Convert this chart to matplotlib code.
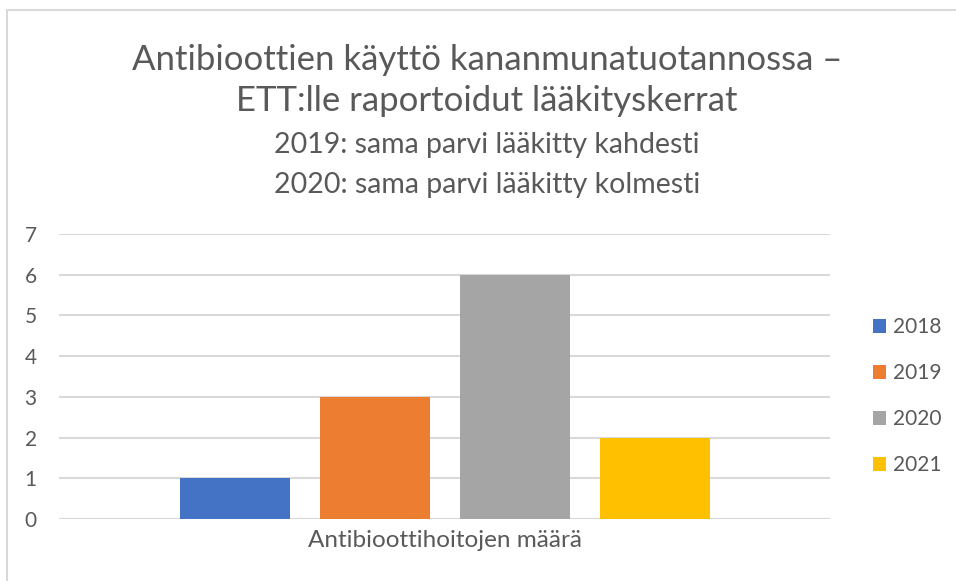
import matplotlib
matplotlib.use("Agg")
import matplotlib.pyplot as plt
from matplotlib.patches import Rectangle

# data
years = ["2018", "2019", "2020", "2021"]
counts = [1, 3, 6, 2]
category = "Antibioottihoitojen määrä"
title_lines = ["Antibioottien käyttö kananmunatuotannossa –", "ETT:lle raportoidut lääkityskerrat"]
subtitle_lines = ["2019: sama parvi lääkitty kahdesti", "2020: sama parvi lääkitty kolmesti"]

COLORS = ["#4472C4", "#ED7D31", "#A5A5A5", "#FFC000"]
TEXT = "#595959"
GRID = "#D9D9D9"

plt.rcParams["font.family"] = ["Lato", "DejaVu Sans"]

W, H = 956, 581
fig = plt.figure(figsize=(W / 100, H / 100), dpi=100)

# chart frame (left + top edges visible)
fig.patches.append(Rectangle((7 / W, -0.1), 1.2, 1.1 - 10 / H, transform=fig.transFigure,
                             fill=False, edgecolor=GRID, linewidth=1.5))

ax = fig.add_axes([59 / W, 1 - 519 / H, 771 / W, 285 / H])

bar_w = 110 / 140
for i, (yr, val) in enumerate(zip(years, counts)):
    ax.bar(i - 1.5, val, width=bar_w, color=COLORS[i], label=yr, zorder=3)

half = 385.5 / 140
ax.set_xlim(-half, half)
ax.set_ylim(0, 7)
ax.set_yticks(range(0, 8))
ax.yaxis.grid(True, color=GRID, linewidth=1.5, zorder=0)
ax.axhline(0, color=GRID, linewidth=1.5, zorder=1)
ax.set_xticks([0])
ax.set_xticklabels([category], fontsize=17.5)
for s in ax.spines.values():
    s.set_visible(False)
ax.tick_params(axis="both", length=0, colors=TEXT)
ax.tick_params(axis="y", pad=16, labelsize=15)
ax.tick_params(axis="x", pad=8)

for txt, y, fs in [(title_lines[0], 60, 25), (title_lines[1], 101, 25),
                   (subtitle_lines[0], 145, 20.5), (subtitle_lines[1], 185, 20.5)]:
    fig.text(487 / W, 1 - y / H, txt, ha="center", va="center", fontsize=fs, color=TEXT)

leg = ax.legend(loc="center left", bbox_to_anchor=(854 / W, 1 - 396 / H),
                bbox_transform=fig.transFigure, frameon=False, fontsize=15,
                handlelength=0.65, handleheight=0.65, handletextpad=0.3,
                labelspacing=1.25, labelcolor=TEXT)

fig.savefig("out.png", dpi=100)
